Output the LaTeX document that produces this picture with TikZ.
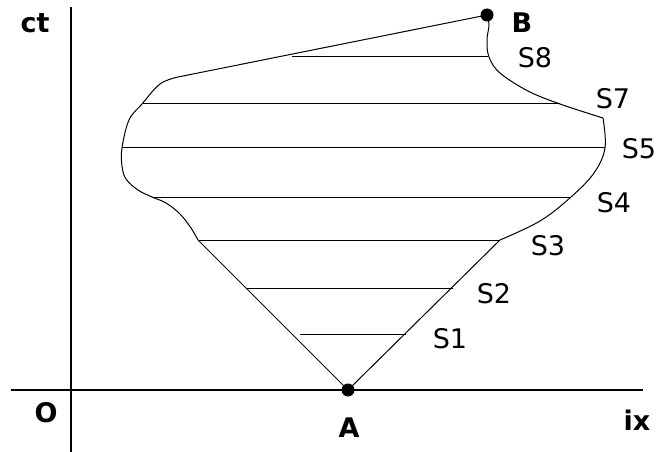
\documentclass[tikz,border=0pt]{standalone}
\usepackage{fontspec}
\setmainfont{DejaVu Sans}
\usetikzlibrary{positioning, calc}
\tikzset{
    axis/.style={line width=1.6pt, black},
    rim/.style={line width=1pt, black},
    slice/.style={line width=1pt, black},
    event/.style={circle, fill=black, inner sep=0pt, minimum size=13pt},
    axlbl/.style={anchor=base, font=\fontsize{27}{30}\selectfont\bfseries},
    slbl/.style={anchor=base, font=\fontsize{27}{30}\selectfont}
}
\begin{document}
\begin{tikzpicture}[x=1pt, y=-1pt]
    \useasboundingbox (0,0) rectangle (657,452);

    % Axes
    \coordinate (ytop) at (71, 7);
    \coordinate (ybot) at (71, 452);
    \coordinate (xl) at (11, 390);
    \coordinate (xr) at (643, 390);
    \draw[axis] (ybot) -- (ytop);
    \draw[axis] (xl) -- (xr);

    % Events
    \node[event] (A) at (348, 390) {};
    \node[event] (B) at (487, 15) {};

    % Slice end points
    \coordinate (s1l) at (300, 334); \coordinate (s1r) at (406, 334);
    \coordinate (s2l) at (247, 288); \coordinate (s2r) at (453, 288);
    \coordinate (s3l) at (198, 240); \coordinate (s3r) at (500, 240);
    \coordinate (s4l) at (152, 197); \coordinate (s4r) at (571, 197);
    \coordinate (s5l) at (122, 148); \coordinate (s5r) at (605, 148);
    \coordinate (s7l) at (142, 104); \coordinate (s7r) at (560, 104);
    \coordinate (s8l) at (292, 57);  \coordinate (s8r) at (488, 57);

    % Boundary
    \draw[rim] (B.center) -- (178, 77);
    \draw[rim] plot[smooth, tension=0.6] coordinates {(178,77) (160,84) (s7l) (129,120) (s5l) (122,166) (126,179) (138,190) (s4l) (166,203) (180,214) (191,228) (s3l)};
    \draw[rim] (s3l) -- (A.center) -- (s3r);
    \draw[rim] plot[smooth, tension=0.6] coordinates {(s3r) (540,221) (s4r) (594,173) (s5r) (603,118)};
    \draw[rim] plot[smooth, tension=0.6] coordinates {(603,118) (s7r) (528,91) (500,73) (489,57) (487,40) (489,25) (B.center)};

    % Slices
    \foreach \s in {1,2,3,4,5,7,8}
        \draw[slice] (s\s l) -- (s\s r);

    % Labels
    \node[axlbl] (ct) at (35, 33) {ct};
    \node[axlbl] (O) at (46, 422) {O};
    \node[axlbl] (ix) at (637, 430) {ix};
    \node[axlbl] (Alabel) at (349, 437) {A};
    \node[axlbl] (Blabel) at (522, 33) {B};
    \node[slbl] (S8) at (535, 68) {S8};
    \node[slbl] (S7) at (613, 109) {S7};
    \node[slbl] (S5) at (639, 159) {S5};
    \node[slbl] (S4) at (614, 212) {S4};
    \node[slbl] (S3) at (548, 255) {S3};
    \node[slbl] (S2) at (494, 303) {S2};
    \node[slbl] (S1) at (450, 348) {S1};
\end{tikzpicture}
\end{document}
